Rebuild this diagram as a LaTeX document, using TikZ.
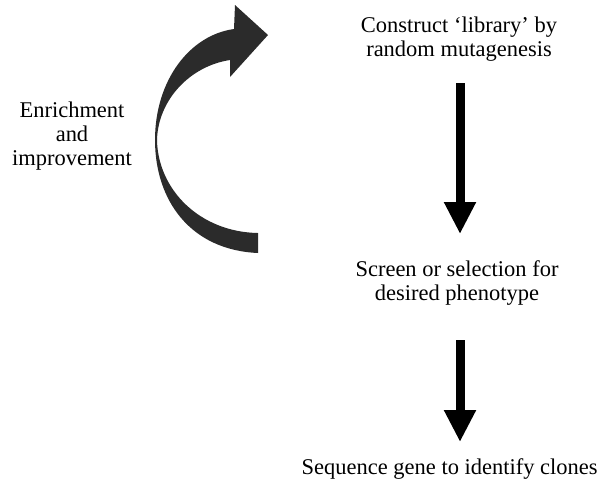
\documentclass[tikz,border=0pt]{standalone}
\usepackage{fontspec}
\setmainfont{Liberation Serif}
\usetikzlibrary{arrows.meta}
\definecolor{Loop}{HTML}{2B2B2B}

\begin{document}
\begin{tikzpicture}[x=0.02cm,y=-0.02cm]
      \tikzstyle{step text}=[align=center, inner sep=0pt,
        font=\fontsize{12.8}{13.5}\selectfont]
      \tikzstyle{down}=[-{Triangle[width=0.6cm,length=0.64cm]}, line width=0.18cm, color=black]
      \useasboundingbox (0,0) rectangle (601,485);
      % labels
      \node[step text] (lib) at (459,39) {Construct `library' by\\random mutagenesis};
      \node[step text] (scr) at (457,283) {Screen or selection for\\desired phenotype};
      \node[step text, anchor=base east] (seq) at (598,474) {Sequence gene to identify clones};
      \node[step text] (enr) at (72,136) {Enrichment\\and\\improvement};
      % straight arrows
      \coordinate (a1) at (460,83);
      \coordinate (b1) at (460,234);
      \coordinate (a2) at (460,340);
      \coordinate (b2) at (460,442);
      \draw[down] (a1) -- (b1);
      \draw[down] (a2) -- (b2);
      % loop arrow
      \fill[Loop] (258,253) .. controls (190,250) and (155,200) .. (155,140)
        .. controls (155,80) and (190,35) .. (234,29)
        -- (235,5) -- (268,35) -- (230,77) -- (230,60)
        .. controls (190,66) and (158,100) .. (157,140)
        .. controls (158,190) and (200,232) .. (258,233) -- cycle;
    \end{tikzpicture}
\end{document}
